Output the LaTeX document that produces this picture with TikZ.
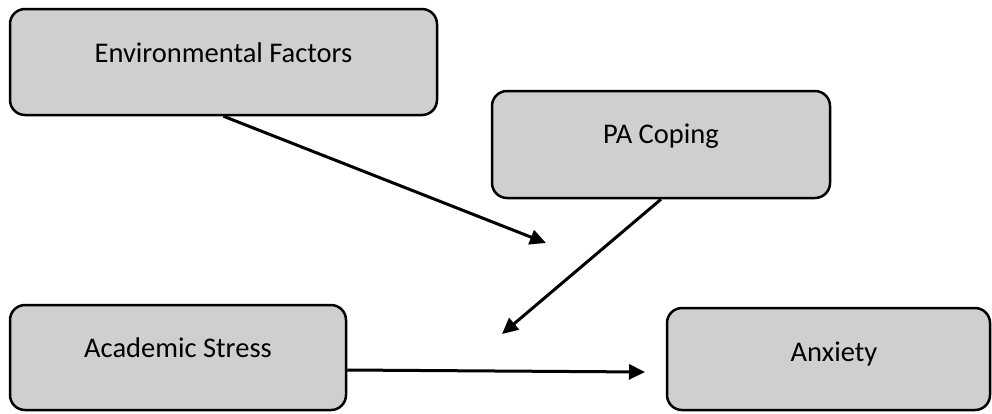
\documentclass[tikz,border=0pt]{standalone}
\usepackage{fontspec}
\setmainfont{Carlito}
\usetikzlibrary{arrows.meta}
\definecolor{boxgray}{RGB}{208,206,206}
\tikzset{
  box/.style={draw=black, line width=2.5pt, fill=boxgray, rounded corners=15pt, inner sep=0pt},
  lbl/.style={anchor=base, inner sep=0pt, font=\fontsize{28.5}{34}\selectfont},
  conn/.style={line width=3pt, -{Triangle[length=16pt,width=15pt]}}
}
\begin{document}
\begin{tikzpicture}[x=1pt,y=-1pt]
\useasboundingbox (0,0) rectangle (992,413);
\node[box, minimum width=427pt, minimum height=106pt] (env) at (223.5,62) {};
\node[box, minimum width=338pt, minimum height=107pt] (pa) at (661,144.5) {};
\node[box, minimum width=336pt, minimum height=105pt] (acad) at (178,357.5) {};
\node[box, minimum width=323pt, minimum height=102pt] (anx) at (828.5,359) {};
\node[lbl] (envt) at (223.5,62) {Environmental Factors};
\node[lbl] (pat) at (661,143) {PA Coping};
\node[lbl] (acadt) at (178,357) {Academic Stress};
\node[lbl] (anxt) at (834,361) {Anxiety};
\coordinate (t1) at (546,243);
\coordinate (t2) at (502,334);
\coordinate (t3) at (645,372);
\draw[conn] (env.south) -- (t1);
\draw[conn] (pa.south) -- (t2);
\draw[conn] ([yshift=-12.5pt]acad.east) -- (t3);
\end{tikzpicture}
\end{document}
